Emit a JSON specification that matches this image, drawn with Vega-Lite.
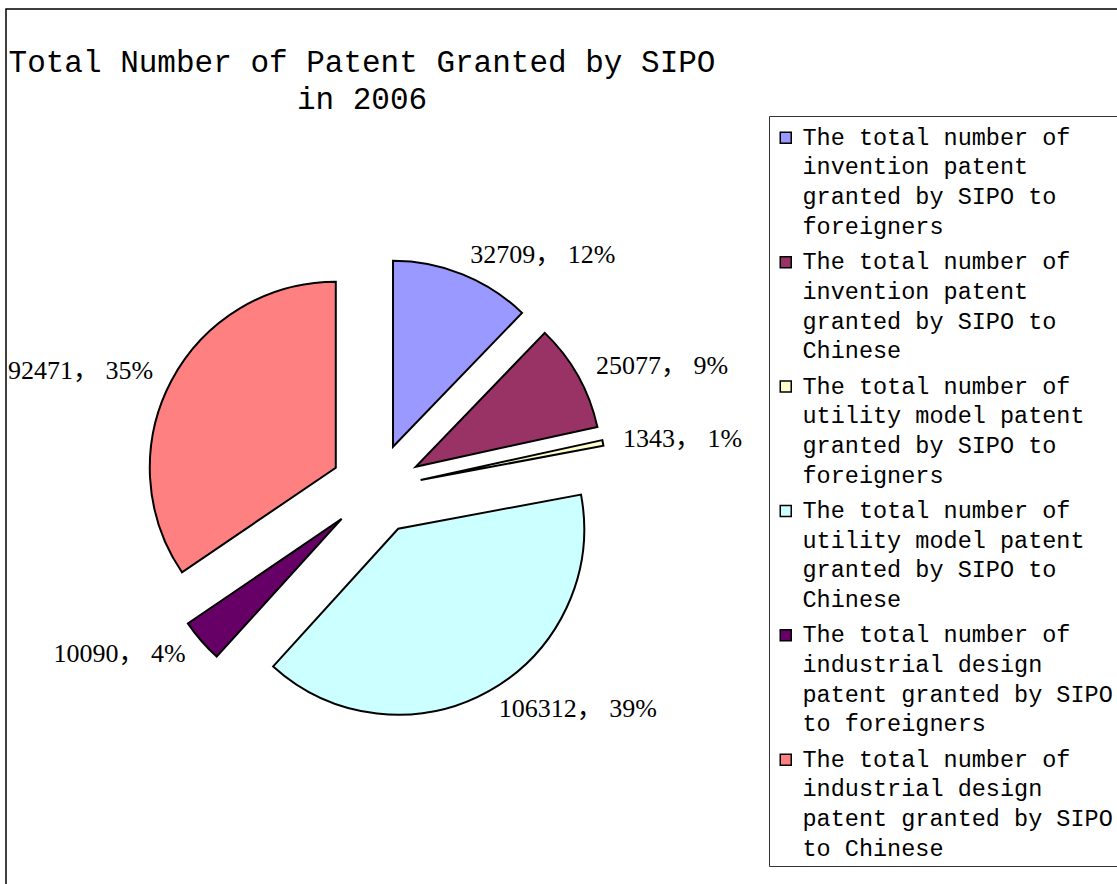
{
  "$schema": "https://vega.github.io/schema/vega-lite/v6.json",
  "width": 1113,
  "height": 877,
  "autosize": {"type": "none"},
  "padding": {"left": 6, "top": 9, "right": -2, "bottom": -2},
  "background": "white",
  "title": {
    "text": ["Total Number of Patent Granted by SIPO", "in 2006"],
    "anchor": "start",
    "align": "center",
    "frame": "group",
    "dx": 356,
    "dy": 107,
    "offset": 0,
    "font": "Liberation Mono",
    "fontSize": 31,
    "fontWeight": "normal",
    "color": "black",
    "lineHeight": 37
  },
  "data": {
    "values": [
      {"category": "The total number of invention patent granted by SIPO to foreigners", "value": 32709, "pct": 12},
      {"category": "The total number of invention patent granted by SIPO to Chinese", "value": 25077, "pct": 9},
      {"category": "The total number of utility model patent granted by SIPO to foreigners", "value": 1343, "pct": 1},
      {"category": "The total number of utility model patent granted by SIPO to Chinese", "value": 106312, "pct": 39},
      {"category": "The total number of industrial design patent granted by SIPO to foreigners", "value": 10090, "pct": 4},
      {"category": "The total number of industrial design patent granted by SIPO to Chinese", "value": 92471, "pct": 35}
    ]
  },
  "transform": [
    {"joinaggregate": [{"op": "sum", "field": "value", "as": "total"}]},
    {"window": [{"op": "sum", "field": "value", "as": "cum"}], "frame": [null, 0]},
    {"calculate": "(datum.cum - datum.value) / datum.total", "as": "f0"},
    {"calculate": "datum.cum / datum.total", "as": "f1"},
    {"calculate": "PI * (datum.f0 + datum.f1)", "as": "mid"},
    {"calculate": "45.5 * sin(datum.mid)", "as": "ex"},
    {"calculate": "-45.5 * cos(datum.mid)", "as": "ey"},
    {"calculate": "252 * sin(datum.mid)", "as": "lx"},
    {"calculate": "-252 * cos(datum.mid)", "as": "ly"},
    {"calculate": "datum.value + '\uff0c ' + datum.pct + '%'", "as": "label"}
  ],
  "layer": [
    {
      "mark": {"type": "arc", "radius": 186, "stroke": "black", "strokeWidth": 2},
      "encoding": {
        "x": {"field": "ex", "type": "quantitative", "scale": {"domain": [-370, 743], "nice": false, "zero": false}, "axis": null},
        "y": {"field": "ey", "type": "quantitative", "scale": {"domain": [-480, 397], "range": [0, 877], "nice": false, "zero": false}, "axis": null},
        "theta": {"field": "f0", "type": "quantitative", "scale": {"domain": [0, 1], "range": [0, 6.283185307179586]}, "stack": null},
        "theta2": {"field": "f1"},
        "color": {
          "field": "category",
          "type": "nominal",
          "scale": {
            "domain": [
              "The total number of invention patent granted by SIPO to foreigners",
              "The total number of invention patent granted by SIPO to Chinese",
              "The total number of utility model patent granted by SIPO to foreigners",
              "The total number of utility model patent granted by SIPO to Chinese",
              "The total number of industrial design patent granted by SIPO to foreigners",
              "The total number of industrial design patent granted by SIPO to Chinese"
            ],
            "range": ["#9999FF", "#993366", "#FFFFCC", "#CCFFFF", "#660066", "#FF8080"]
          },
          "legend": {
            "orient": "none",
            "legendX": 763,
            "legendY": 107,
            "title": " ",
            "titleFontSize": 1,
            "titlePadding": 4,
            "labelExpr": "split(indexof(datum.label, 'design') >= 0 ? replace(replace(replace(datum.label, ' of ', ' of|'), ' patent', '|patent'), ' to ', '|to ') : replace(replace(replace(datum.label, ' of ', ' of|'), ' granted', '|granted'), ' to ', ' to|'), '|')",
            "labelFont": "Liberation Mono",
            "labelFontSize": 23.5,
            "labelLimit": 0,
            "labelOffset": 5,
            "labelColor": "black",
            "labelBaseline": "middle",
            "symbolType": "square",
            "symbolSize": 121,
            "symbolStrokeColor": "black",
            "symbolStrokeWidth": 1.5,
            "symbolOpacity": 1,
            "strokeColor": "#333333",
            "fillColor": "white",
            "padding": 5,
            "rowPadding": 10.4,
            "encode": {"labels": {"update": {"lineHeight": {"value": 29.7}}}}
          }
        }
      }
    },
    {
      "transform": [{"filter": "datum.lx >= 0"}],
      "mark": {"type": "text", "align": "left", "baseline": "middle", "font": "Liberation Serif, Noto Sans CJK SC", "fontSize": 26, "color": "black"},
      "encoding": {
        "x": {"field": "lx", "type": "quantitative", "axis": null},
        "y": {"field": "ly", "type": "quantitative", "axis": null},
        "text": {"field": "label"}
      }
    },
    {
      "transform": [{"filter": "datum.lx < 0"}],
      "mark": {"type": "text", "align": "right", "baseline": "middle", "font": "Liberation Serif, Noto Sans CJK SC", "fontSize": 26, "color": "black"},
      "encoding": {
        "x": {"field": "lx", "type": "quantitative", "axis": null},
        "y": {"field": "ly", "type": "quantitative", "axis": null},
        "text": {"field": "label"}
      }
    }
  ],
  "config": {
    "view": {"stroke": "black", "strokeWidth": 1.5},
    "legend": {"strokeWidth": 1}
  }
}
